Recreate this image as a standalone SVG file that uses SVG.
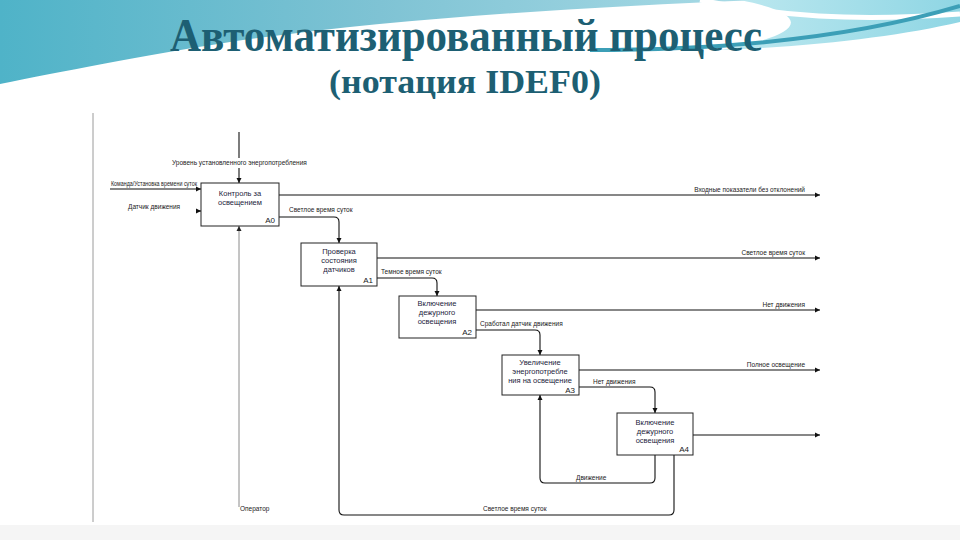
<svg xmlns="http://www.w3.org/2000/svg" width="960" height="540" viewBox="0 0 960 540">
<defs>
<linearGradient id="gTeal" x1="0" y1="0" x2="1" y2="0">
<stop offset="0" stop-color="#4fb3c8"/>
<stop offset="0.5" stop-color="#7fc3d4"/>
<stop offset="1" stop-color="#a9dbe6"/>
</linearGradient>
<linearGradient id="gCyan" x1="0" y1="0" x2="1" y2="0">
<stop offset="0" stop-color="#bfe9f0"/>
<stop offset="1" stop-color="#8fd6e4"/>
</linearGradient>
<marker id="arr" markerWidth="6" markerHeight="6" refX="5" refY="3" orient="auto" markerUnits="userSpaceOnUse">
<path d="M0,0.5 L5,3 L0,5.5 Z" fill="#111"/>
</marker>
<marker id="arrG" markerWidth="6" markerHeight="6" refX="5" refY="3" orient="auto" markerUnits="userSpaceOnUse">
<path d="M0,0.5 L5,3 L0,5.5 Z" fill="#222"/>
</marker>
</defs>
<style>
.title{font-family:"Liberation Serif","DejaVu Serif",serif;font-weight:bold;fill:#1d5f73}
.box{fill:#fff;stroke:#222;stroke-width:1}
.bt{font-family:"Liberation Sans",Arial,sans-serif;font-size:7.5px;fill:#1c1c3c;text-anchor:middle}
.id{font-family:"Liberation Sans",Arial,sans-serif;font-size:8px;fill:#222;text-anchor:end}
.lbl{font-family:"Liberation Sans",Arial,sans-serif;font-size:6.5px;fill:#222}
.end{text-anchor:end}
.ln{fill:none;stroke:#111;stroke-width:1.1}
.gr{fill:none;stroke:#8a8a8a;stroke-width:1}
</style>
<rect x="0" y="0" width="960" height="540" fill="#ffffff"/>
<g id="background">
<path d="M0,0 H760 C560,8 380,20 230,42 C140,56 60,72 0,84 Z" fill="url(#gTeal)"/>
<path d="M740,0 H960 V22 C900,36 820,46 720,50 C800,36 820,16 740,0 Z" fill="url(#gCyan)"/>
<path d="M700,0 C780,16 850,22 960,14" fill="none" stroke="#ffffff" stroke-width="5"/>
<path d="M590,50 C730,50 860,36 960,6" fill="none" stroke="#3c9fb7" stroke-width="4"/>
<rect x="0" y="525" width="960" height="15" fill="#f5f5f5"/>
</g>
<g id="titles">
<text class="title" x="170" y="51" font-size="46" textLength="592" lengthAdjust="spacingAndGlyphs">Автоматизированный процесс</text>
<text class="title" x="329" y="93" font-size="34" textLength="272" lengthAdjust="spacingAndGlyphs">(нотация IDEF0)</text>
</g>
<line x1="93" y1="113" x2="93" y2="522" stroke="#9a9a9a" stroke-width="1"/>
<g id="connectors">
<path class="ln" d="M239,132 V158"/>
<path class="ln" d="M239,168 V183" marker-end="url(#arr)"/>
<path class="ln" d="M110,189 H201" marker-end="url(#arr)"/>
<path class="ln" d="M196,211 H201" marker-end="url(#arr)"/>
<path class="gr" d="M239,507 V226" marker-end="url(#arrG)"/>
<path class="ln" d="M279,195 H820" marker-end="url(#arr)"/>
<path class="ln" d="M279,217 H334 Q339,217 339,222 V243" marker-end="url(#arr)"/>
<path class="ln" d="M377,258 H820" marker-end="url(#arr)"/>
<path class="ln" d="M377,278 H432 Q437,278 437,283 V296" marker-end="url(#arr)"/>
<path class="ln" d="M476,310 H820" marker-end="url(#arr)"/>
<path class="ln" d="M476,330 H535 Q540,330 540,335 V355" marker-end="url(#arr)"/>
<path class="ln" d="M579,370 H820" marker-end="url(#arr)"/>
<path class="ln" d="M579,387 H650 Q655,387 655,392 V413" marker-end="url(#arr)"/>
<path class="ln" d="M693,435 H820" marker-end="url(#arr)"/>
<path class="ln" d="M655,455 V478 Q655,483 650,483 H545 Q540,483 540,478 V395" marker-end="url(#arr)"/>
<path class="ln" d="M674,455 V510 Q674,515 669,515 H344 Q339,515 339,510 V286" marker-end="url(#arr)"/>
</g>
<g id="labels">
<text class="lbl" x="172" y="165">Уровень установленного энергопотребления</text>
<text class="lbl" x="111" y="186" textLength="86" lengthAdjust="spacingAndGlyphs">Команда/Установка времени суток</text>
<text class="lbl" x="128" y="209" fill="#1c1c4c">Датчик движения</text>
<text class="lbl" x="240" y="511">Оператор</text>
<text class="lbl end" x="805" y="192">Входные показатели без отклонений</text>
<text class="lbl" x="289" y="212">Светлое время суток</text>
<text class="lbl end" x="805" y="255">Светлое время суток</text>
<text class="lbl" x="381" y="274">Темное время суток</text>
<text class="lbl end" x="805" y="307">Нет движения</text>
<text class="lbl" x="480" y="326">Сработал датчик движения</text>
<text class="lbl end" x="805" y="367">Полное освещение</text>
<text class="lbl" x="593" y="384">Нет движения</text>
<text class="lbl" x="576" y="480">Движение</text>
<text class="lbl" x="483" y="511">Светлое время суток</text>
</g>
<g id="A0">
<rect class="box" x="201" y="183" width="78" height="43"/>
<text class="bt" x="240" y="196">Контроль за</text>
<text class="bt" x="240" y="205">освещением</text>
<text class="id" x="275" y="223">A0</text>
</g>
<g id="A1">
<rect class="box" x="301" y="243" width="76" height="43"/>
<text class="bt" x="339" y="254">Проверка</text>
<text class="bt" x="339" y="263">состояния</text>
<text class="bt" x="339" y="272">датчиков</text>
<text class="id" x="373" y="283">A1</text>
</g>
<g id="A2">
<rect class="box" x="399" y="296" width="77" height="42"/>
<text class="bt" x="437" y="306">Включение</text>
<text class="bt" x="437" y="315">дежурного</text>
<text class="bt" x="437" y="324">освещения</text>
<text class="id" x="472" y="335">A2</text>
</g>
<g id="A3">
<rect class="box" x="502" y="355" width="77" height="40"/>
<text class="bt" x="540" y="365">Увеличение</text>
<text class="bt" x="540" y="374">энергопотребле</text>
<text class="bt" x="540" y="383">ния на освещение</text>
<text class="id" x="575" y="393">A3</text>
</g>
<g id="A4">
<rect class="box" x="617" y="413" width="76" height="42"/>
<text class="bt" x="655" y="425">Включение</text>
<text class="bt" x="655" y="434">дежурного</text>
<text class="bt" x="655" y="443">освещения</text>
<text class="id" x="689" y="452">A4</text>
</g>
</svg>
